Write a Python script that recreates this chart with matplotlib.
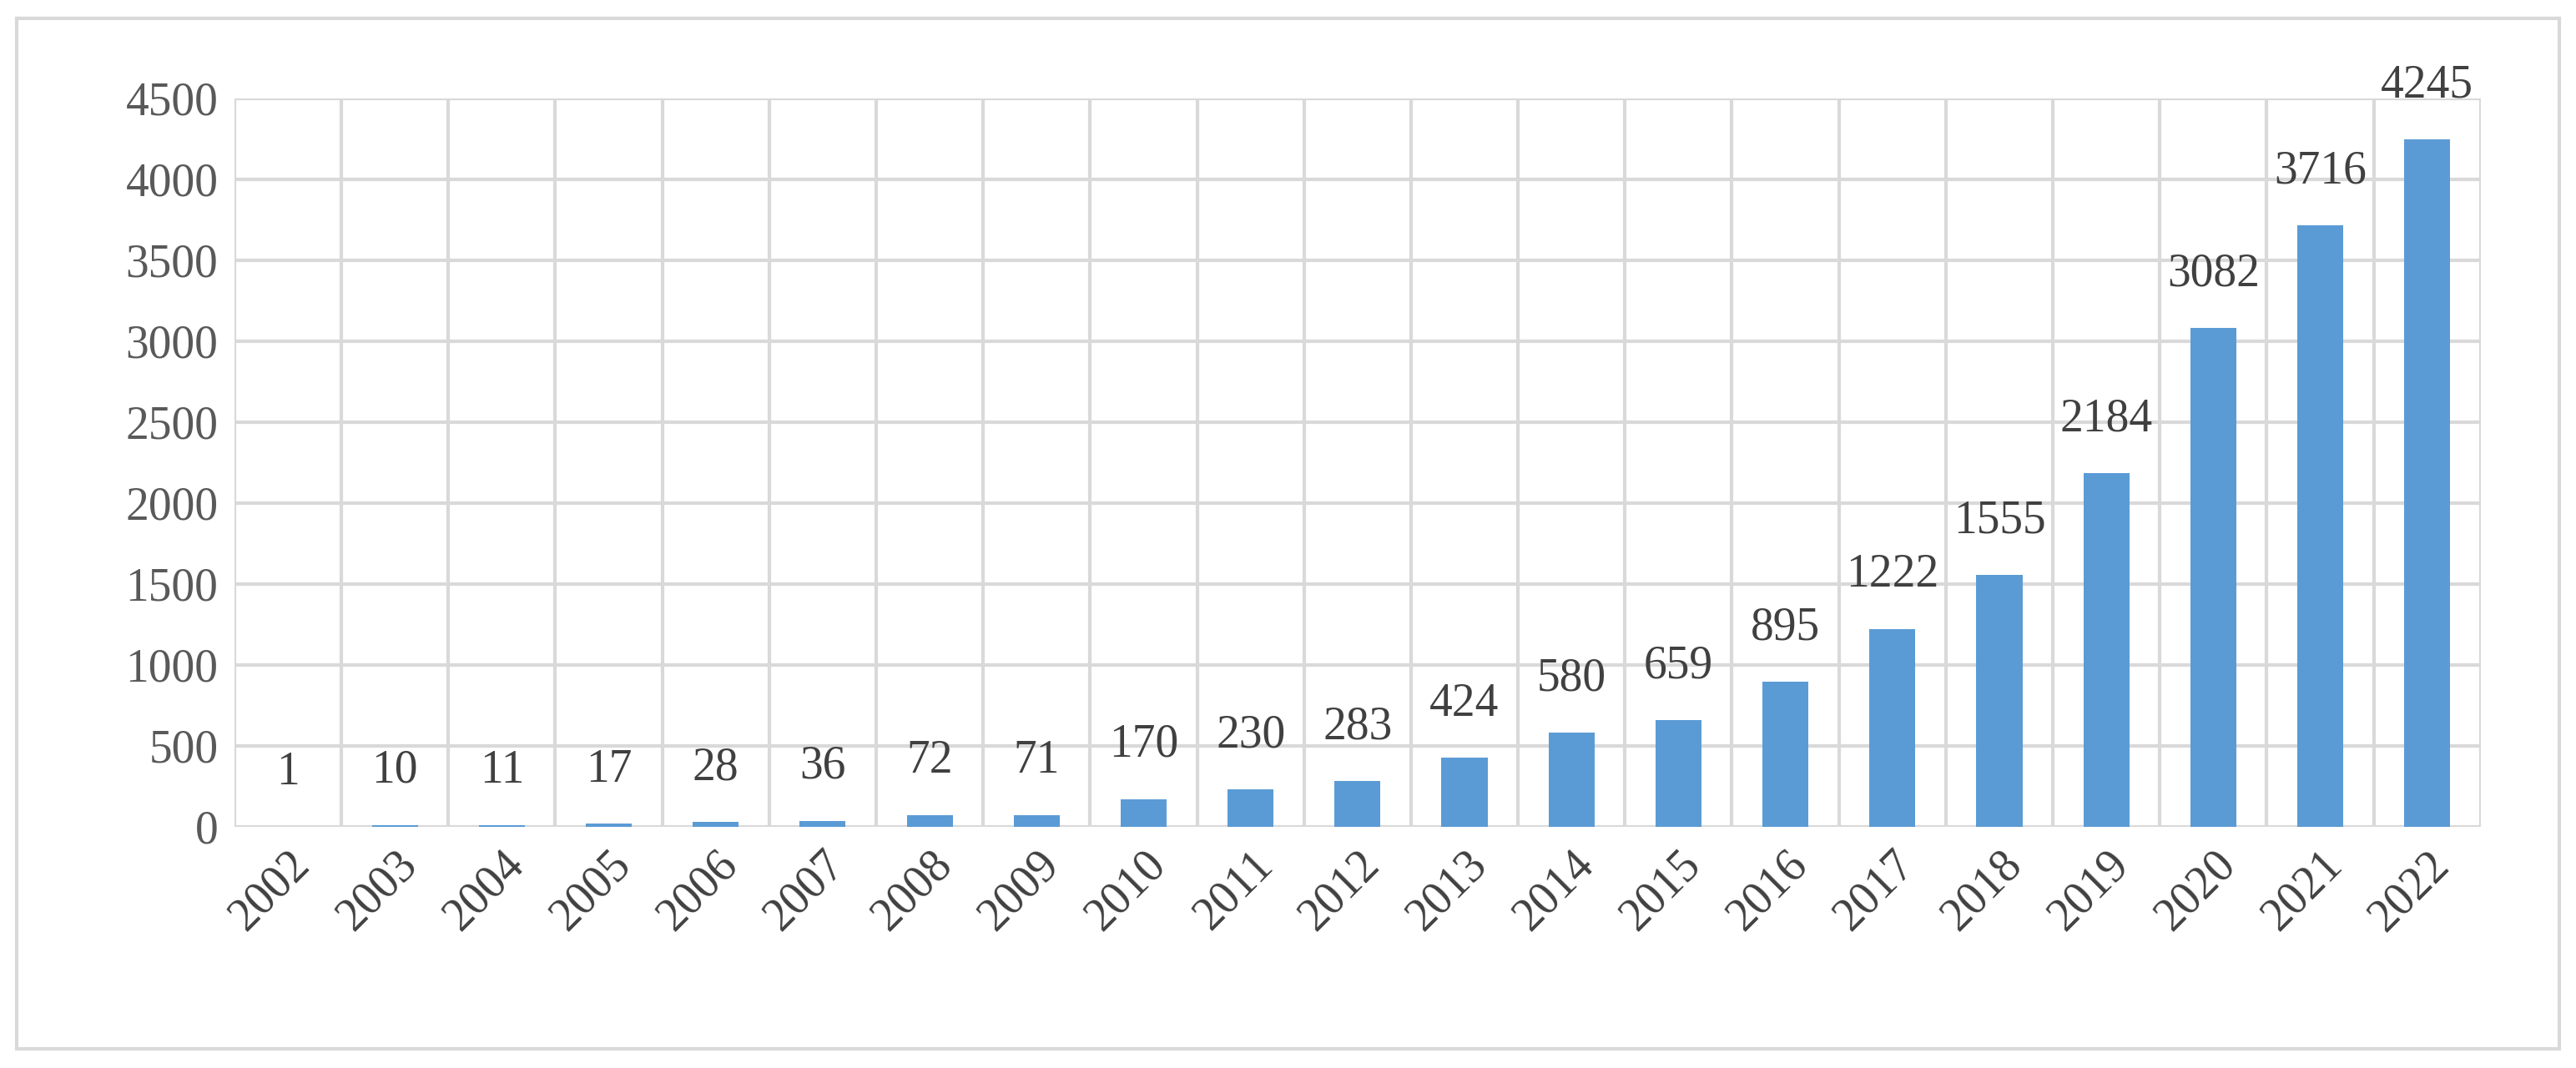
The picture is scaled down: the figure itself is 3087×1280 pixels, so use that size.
import matplotlib
matplotlib.use("Agg")
import matplotlib.pyplot as plt
from matplotlib.patches import Rectangle

years = [str(y) for y in range(2002, 2023)]
counts = [1, 10, 11, 17, 28, 36, 72, 71, 170, 230, 283, 424, 580, 659, 895, 1222, 1555, 2184, 3082, 3716, 4245]
yticks = [0, 500, 1000, 1500, 2000, 2500, 3000, 3500, 4000, 4500]

plt.rcParams['font.family'] = ['Liberation Serif', 'DejaVu Serif']
fig = plt.figure(figsize=(30.87, 12.8), dpi=100)
fig.patches.append(Rectangle((0.0065, 0.018), 0.987, 0.965, transform=fig.transFigure,
                             fill=False, edgecolor='#d9d9d9', linewidth=3))
ax = fig.add_axes([0.091, 0.226, 0.872, 0.682])
x = list(range(len(years)))
ax.bar(x, counts, width=0.43, color='#5B9BD5', zorder=3)
for xi, v in zip(x, counts):
    ax.text(xi, v + 200, str(v), ha='center', va='bottom', fontsize=40, color='#404040', zorder=4)
ax.set_xlim(-0.5, len(years) - 0.5)
ax.set_ylim(0, 4500)
ax.set_yticks(yticks)
ax.set_yticklabels([str(t) for t in yticks], fontsize=40, color='#595959')
ax.set_xticks(x)
ax.set_xticklabels(years, rotation=45, ha='right', rotation_mode='anchor', fontsize=40, color='#404040')
for b in range(len(years) + 1):
    ax.axvline(b - 0.5, color='#d9d9d9', linewidth=3, zorder=1)
ax.grid(axis='y', color='#d9d9d9', linewidth=3, zorder=1)
for s in ax.spines.values():
    s.set_visible(False)
ax.tick_params(length=0, pad=14)
fig.savefig('out.png', dpi=100)
